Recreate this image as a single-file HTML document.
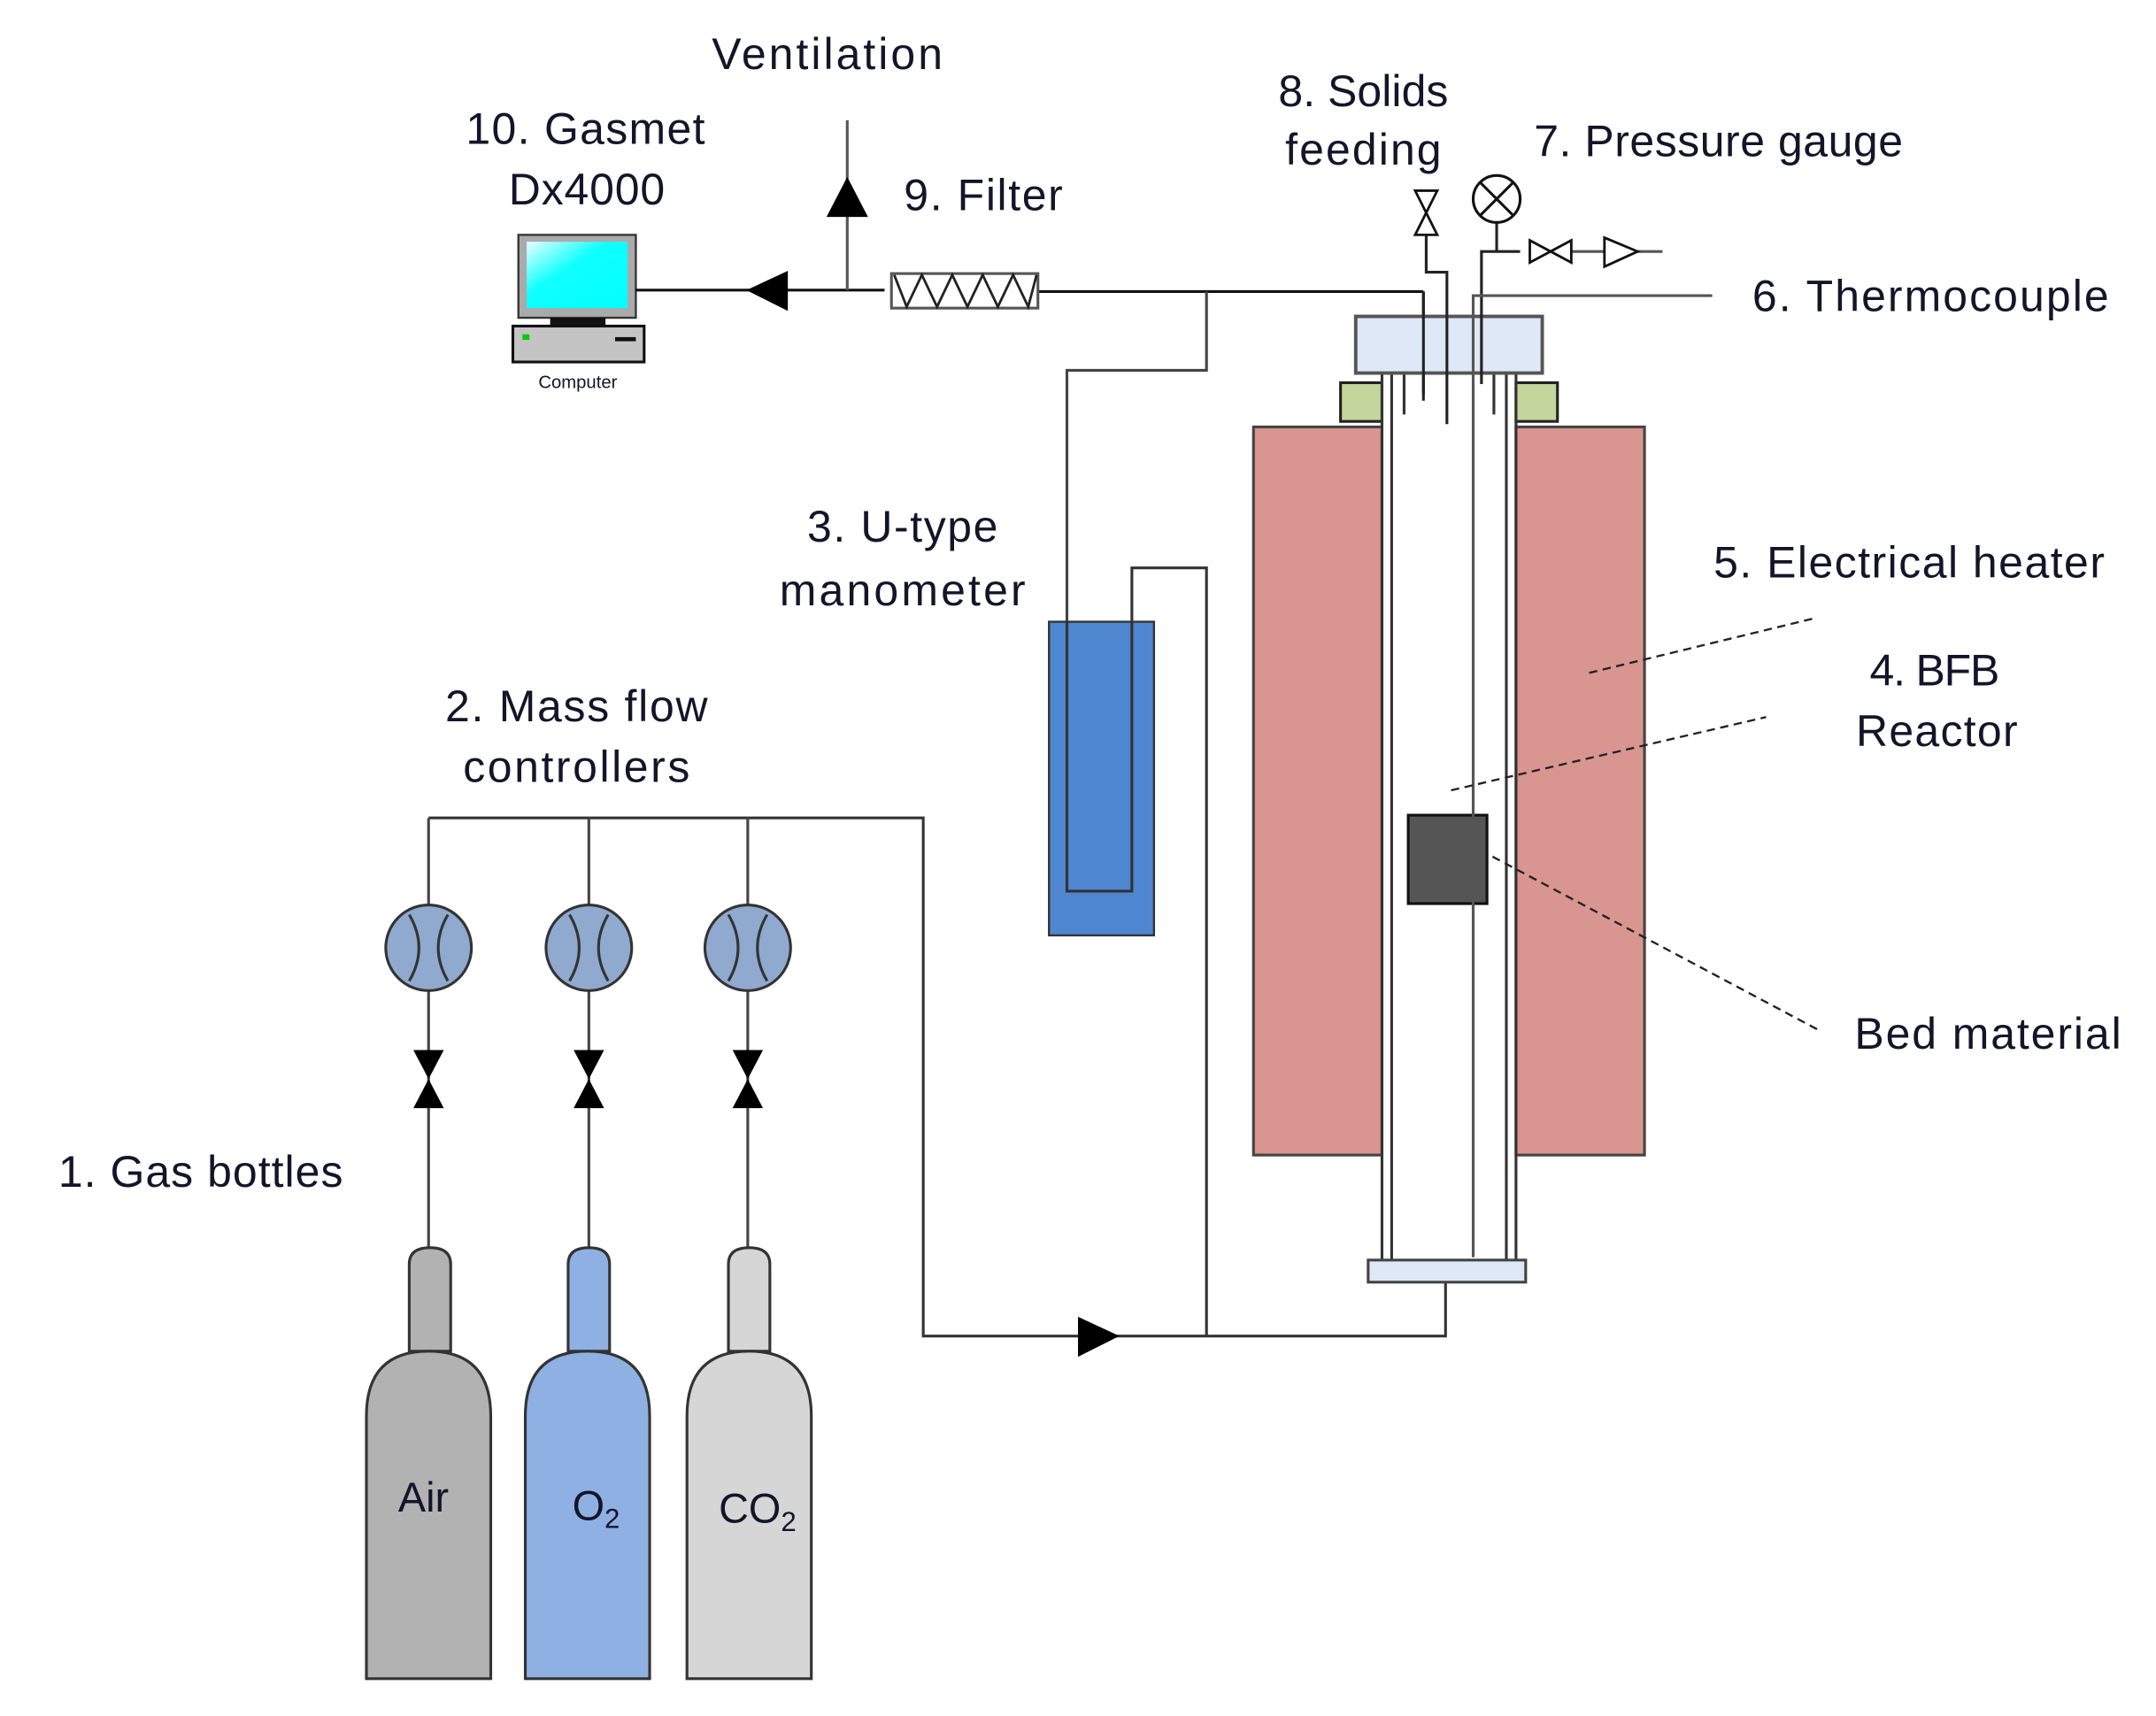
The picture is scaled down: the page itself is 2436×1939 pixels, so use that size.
<!DOCTYPE html>
<html><head><meta charset="utf-8"><style>html,body{margin:0;padding:0;background:#fff}svg{display:block}text{font-family:"Liberation Sans",sans-serif;fill:#14142a}</style></head>
<body>
<svg width="2436" height="1939" viewBox="0 0 1560 1242" xmlns="http://www.w3.org/2000/svg">
<defs><linearGradient id="scr" x1="0" y1="0" x2="1" y2="1"><stop offset="0" stop-color="#e8ffff"/><stop offset="0.4" stop-color="#1ff"/><stop offset="1" stop-color="#0ff"/></linearGradient></defs>
<g font-size="32">
<text x="515" y="50" textLength="167">Ventilation</text>
<text x="337" y="104" textLength="173">10. Gasmet</text>
<text x="368" y="148" textLength="113">Dx4000</text>
<text x="654" y="152" textLength="115">9. Filter</text>
<text x="925" y="77" textLength="123">8. Solids</text>
<text x="930" y="119" textLength="113">feeding</text>
<text x="1110" y="113" textLength="267">7. Pressure gauge</text>
<text x="1268" y="225" textLength="258">6. Thermocouple</text>
<text x="584" y="392" textLength="138">3. U-type</text>
<text x="564" y="438" textLength="178">manometer</text>
<text x="1240" y="418" textLength="283">5. Electrical heater</text>
<text x="1353" y="496" textLength="94">4. BFB</text>
<text x="1343" y="540" textLength="117">Reactor</text>
<text x="1342" y="759" textLength="193">Bed material</text>
<text x="322" y="522" textLength="190">2. Mass flow</text>
<text x="335" y="566" textLength="164">controllers</text>
<text x="42" y="859" textLength="206">1. Gas bottles</text>
</g>
<rect x="375" y="170" width="85" height="60" fill="#aaa" stroke="#333" stroke-width="1.5"/>
<rect x="381" y="175" width="73" height="48" fill="url(#scr)"/>
<rect x="398" y="230" width="40" height="6" fill="#111"/>
<rect x="371" y="236" width="95" height="26" fill="#c4c4c4" stroke="#111" stroke-width="2"/>
<rect x="378" y="242" width="5" height="4" fill="#0c0"/>
<rect x="445" y="244" width="15" height="3" fill="#111"/>
<text x="418" y="281" font-size="13" text-anchor="middle">Computer</text>
<g stroke="#111" stroke-width="2" fill="none">
<line x1="460" y1="210" x2="640" y2="210"/>
<line x1="751" y1="211" x2="1030" y2="211"/>
<line x1="1030" y1="211" x2="1030" y2="285"/>
</g>
<line x1="613" y1="87" x2="613" y2="210" stroke="#555" stroke-width="2"/>
<polygon points="613,128 598,157 628,157" fill="#000"/>
<polygon points="540,210 570,196 570,225" fill="#000"/>
<rect x="645" y="198" width="106" height="25" fill="#fff" stroke="#555" stroke-width="2"/>
<polyline points="647,199 656,222 667,199 678,222 689,199 700,222 711,199 722,222 733,199 744,222 750,199" fill="none" stroke="#222" stroke-width="1.8"/>
<g stroke="#444" stroke-width="2" fill="none">
<polyline points="873,211 873,268 772,268 772,460"/>
</g>
<rect x="759" y="450" width="76" height="227" fill="#4f86d0" stroke="#333" stroke-width="1.5"/>
<g stroke="#333" stroke-width="2" fill="none">
<polyline points="772,450 772,645 819,645 819,411 873,411 873,967"/>
<polyline points="310,592 668,592 668,967 1046,967 1046,928"/>
</g>
<polygon points="810,967 780,953 780,982" fill="#000"/>
<g>
<line x1="310" y1="592" x2="310" y2="905" stroke="#444" stroke-width="2"/>
<line x1="426" y1="592" x2="426" y2="905" stroke="#444" stroke-width="2"/>
<line x1="541" y1="592" x2="541" y2="905" stroke="#444" stroke-width="2"/>
</g>
<g fill="#8fa9cf" stroke="#333" stroke-width="2">
<circle cx="310" cy="686" r="31"/><circle cx="426" cy="686" r="31"/><circle cx="541" cy="686" r="31"/>
</g>
<g fill="none" stroke="#333" stroke-width="2">
<path d="M296,662 Q310,686 296,710 M324,662 Q310,686 324,710"/>
<path d="M412,662 Q426,686 412,710 M440,662 Q426,686 440,710"/>
<path d="M527,662 Q541,686 527,710 M555,662 Q541,686 555,710"/>
</g>
<g fill="#000">
<polygon points="299,760 321,760 310,781 321,802 299,802 310,781"/>
<polygon points="415,760 437,760 426,781 437,802 415,802 426,781"/>
<polygon points="530,760 552,760 541,781 552,802 530,802 541,781"/>
</g>
<g stroke="#333" stroke-width="2">
<path d="M296,978 V915 Q296,903 311,903 Q326,903 326,915 V978 Z" fill="#b2b2b2"/>
<path d="M265,1215 V1025 Q265,978 310,978 Q355,978 355,1025 V1215 Z" fill="#b2b2b2"/>
<path d="M411,978 V915 Q411,903 426,903 Q441,903 441,915 V978 Z" fill="#8eb0e2"/>
<path d="M380,1215 V1025 Q380,978 425,978 Q470,978 470,1025 V1215 Z" fill="#8eb0e2"/>
<path d="M527,978 V915 Q527,903 542,903 Q557,903 557,915 V978 Z" fill="#d6d6d6"/>
<path d="M497,1215 V1025 Q497,978 542,978 Q587,978 587,1025 V1215 Z" fill="#d6d6d6"/>
</g>
<text x="288" y="1094" font-size="30">Air</text>
<text x="414" y="1100" font-size="30">O<tspan font-size="20" dy="6">2</tspan></text>
<text x="520" y="1102" font-size="30">CO<tspan font-size="20" dy="6">2</tspan></text>
<rect x="907" y="309" width="93" height="527" fill="#d9958f" stroke="#444" stroke-width="2"/>
<rect x="1097" y="309" width="93" height="527" fill="#d9958f" stroke="#444" stroke-width="2"/>
<rect x="970" y="277" width="30" height="28" fill="#c3d69b" stroke="#222" stroke-width="2"/>
<rect x="1097" y="277" width="30" height="28" fill="#c3d69b" stroke="#222" stroke-width="2"/>
<g stroke="#333" stroke-width="2">
<line x1="1000" y1="270" x2="1000" y2="912"/><line x1="1007" y1="270" x2="1007" y2="912"/>
<line x1="1090" y1="270" x2="1090" y2="912"/><line x1="1097" y1="270" x2="1097" y2="912"/>
<line x1="1016" y1="270" x2="1016" y2="300"/><line x1="1081" y1="270" x2="1081" y2="300"/>
</g>
<rect x="990" y="912" width="114" height="16" fill="#dfe8f6" stroke="#444" stroke-width="2"/>
<rect x="981" y="229" width="135" height="41" fill="#dfe8f6" stroke="#555" stroke-width="2.5"/>
<rect x="1019" y="590" width="57" height="64" fill="#555" stroke="#111" stroke-width="2"/>
<g stroke="#222" stroke-width="2" fill="none">
<polyline points="1032,170 1032,197 1047,197 1047,307"/>
<polyline points="1072,278 1072,182 1100,182"/>
<line x1="1083" y1="161" x2="1083" y2="182"/>
<polyline points="1066,910 1066,214 1239,214" stroke="#555"/>
<line x1="1030" y1="211" x2="1030" y2="290"/>
</g>
<line x1="1130" y1="182" x2="1203" y2="182" stroke="#555" stroke-width="2"/>
<circle cx="1083" cy="144" r="17" fill="#fff" stroke="#111" stroke-width="2"/>
<path d="M1071,132 L1095,156 M1095,132 L1071,156" stroke="#111" stroke-width="2"/>
<polygon points="1024,138 1040,138 1032,154 1040,170 1024,170 1032,154" fill="#fff" stroke="#111" stroke-width="1.8"/>
<polygon points="1107,174 1107,190 1122,182 1137,190 1137,174 1122,182" fill="#fff" stroke="#111" stroke-width="1.8"/>
<polygon points="1161,172 1161,193 1185,182" fill="#fff" stroke="#111" stroke-width="1.8"/>
<g stroke="#222" stroke-width="1.5" stroke-dasharray="6,4" fill="none">
<line x1="1150" y1="487" x2="1315" y2="447"/>
<line x1="1050" y1="572" x2="1278" y2="519"/>
<line x1="1080" y1="620" x2="1315" y2="745"/>
</g>
</svg>
</body></html>
